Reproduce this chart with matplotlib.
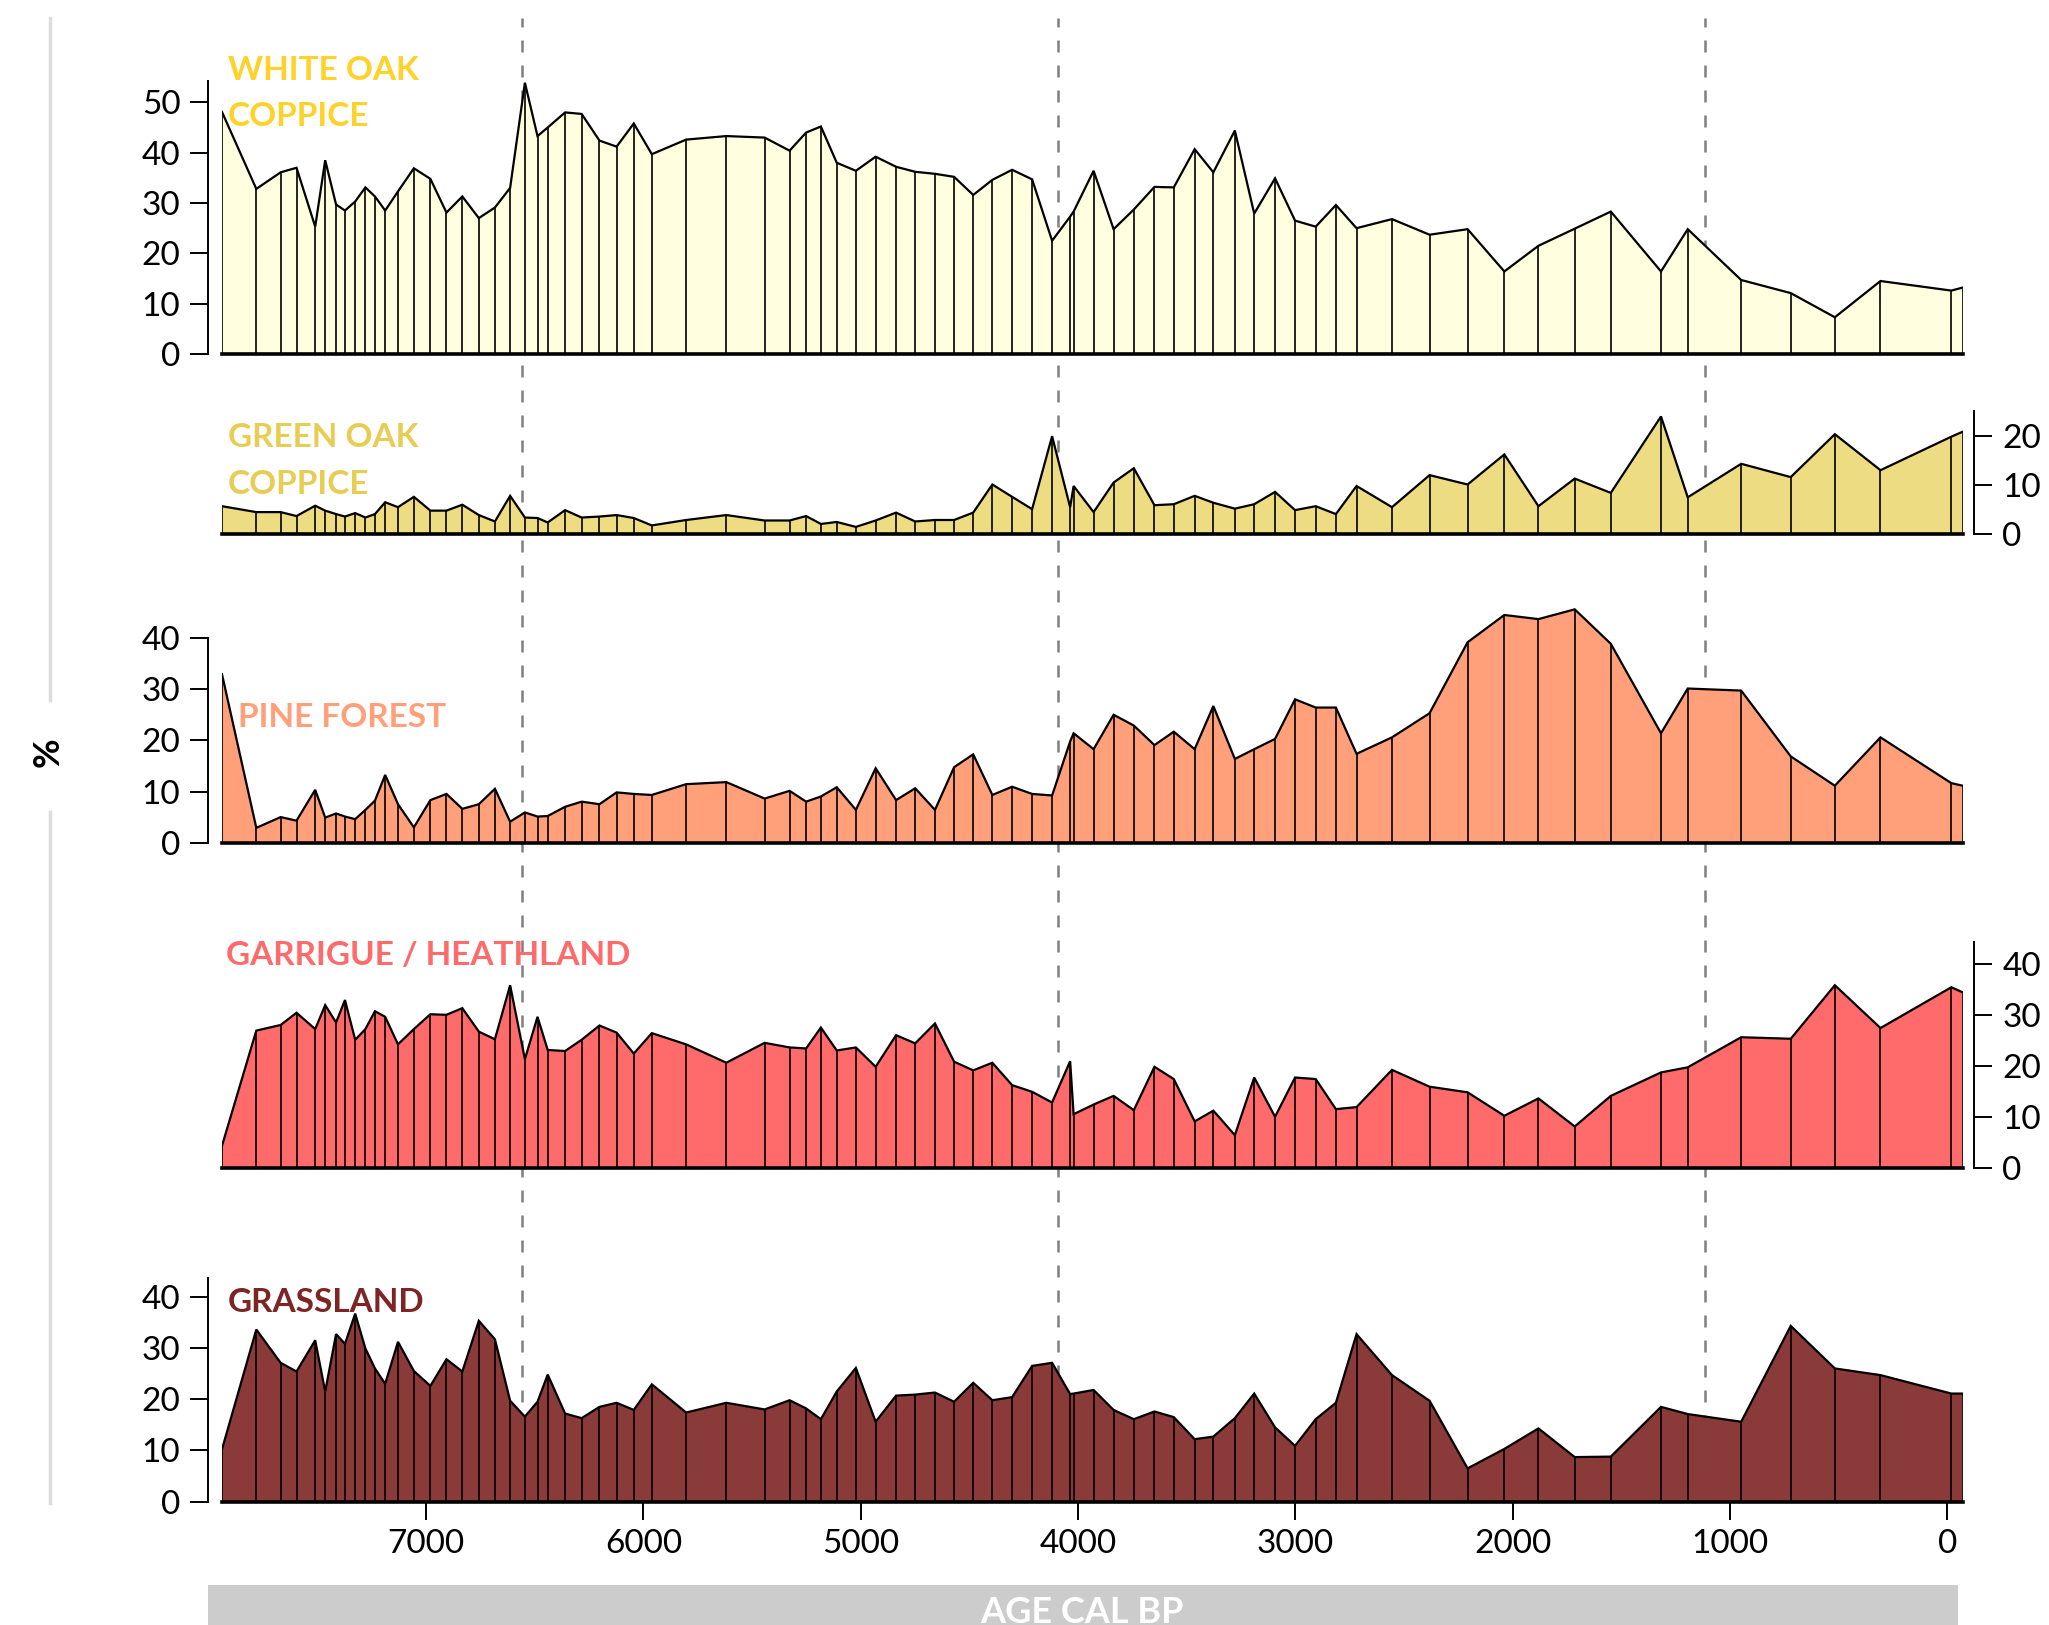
import numpy as np
import matplotlib.pyplot as plt
from matplotlib.lines import Line2D
from matplotlib.patches import Rectangle

plt.rcParams['font.family'] = ['Lato', 'DejaVu Sans']

# sample ages (cal BP), shared by all curves
age = [7939, 7781, 7669, 7596, 7510, 7464, 7414, 7373, 7326, 7279, 7235, 7188,
       7129, 7056, 6980, 6906, 6833, 6757, 6683, 6613, 6545, 6487, 6440, 6360,
       6284, 6202, 6123, 6044, 5961, 5803, 5618, 5442, 5327, 5251, 5183, 5110,
       5022, 4931, 4837, 4749, 4658, 4570, 4482, 4394,
       4303, 4211, 4119, 4036, 4020, 3928, 3836, 3743, 3648, 3559, 3463, 3377,
       3278, 3189, 3093, 3001, 2906, 2813, 2718, 2555, 2382, 2207, 2038, 1881,
       1714, 1548, 1317, 1194, 948, 720, 517, 307, -19, -71]

white_oak = [48.1, 32.8, 36.1, 37.0, 25.3, 38.5, 29.7, 28.5, 30.3, 33.1, 31.3, 28.5,
             32.3, 36.9, 34.8, 28.1, 31.3, 27.0, 29.1, 33.0, 53.9, 43.3, 45.0, 48.0,
             47.7, 42.4, 41.2, 45.8, 39.7, 42.6, 43.3, 43.0, 40.4, 44.0, 45.2, 38.0,
             36.4, 39.2, 37.2, 36.2, 35.8, 35.2, 31.6, 34.6,
             36.6, 34.7, 22.5, 27.3, 28.3, 36.4, 24.8, 28.7, 33.2, 33.1, 40.7, 36.1,
             44.4, 27.9, 34.9, 26.5, 25.3, 29.6, 25.0, 26.8, 23.7, 24.8, 16.4, 21.5,
             24.9, 28.3, 16.4, 24.8, 14.7, 12.1, 7.3, 14.5, 12.6, 13.2]

green_oak = [5.7, 4.5, 4.5, 3.7, 5.8, 4.8, 4.1, 3.6, 4.3, 3.4, 4.1, 6.5,
             5.5, 7.6, 4.8, 4.8, 6.0, 3.9, 2.6, 7.8, 3.4, 3.3, 2.4, 4.9,
             3.4, 3.6, 3.9, 3.3, 1.8, 2.9, 3.9, 2.8, 2.8, 3.7, 2.1, 2.5,
             1.5, 2.8, 4.4, 2.6, 2.9, 2.9, 4.4, 10.1,
             7.6, 5.1, 19.9, 5.5, 9.8, 4.5, 10.5, 13.4, 5.9, 6.1, 7.8, 6.4,
             5.2, 6.1, 8.6, 4.9, 5.7, 4.1, 9.8, 5.5, 12.0, 10.1, 16.2, 5.7,
             11.3, 8.4, 23.9, 7.5, 14.3, 11.6, 20.3, 13.0, 19.8, 20.8]

pine = [32.9, 3.0, 5.1, 4.4, 10.4, 5.0, 5.8, 5.2, 4.7, 6.5, 8.3, 13.3,
        7.6, 3.1, 8.4, 9.6, 6.7, 7.6, 10.6, 4.2, 6.0, 5.2, 5.3, 7.1,
        8.1, 7.6, 9.9, 9.6, 9.4, 11.5, 11.9, 8.7, 10.2, 8.1, 9.1, 10.9,
        6.5, 14.6, 8.4, 10.7, 6.5, 14.8, 17.3, 9.4,
        11.0, 9.6, 9.3, 19.8, 21.4, 18.3, 25.0, 22.9, 19.1, 21.7, 18.3, 26.7,
        16.4, 18.3, 20.3, 28.0, 26.4, 26.4, 17.4, 20.6, 25.3, 39.1, 44.4, 43.6,
        45.5, 38.8, 21.4, 30.1, 29.7, 16.9, 11.2, 20.6, 11.7, 11.2]

garrigue = [4.4, 27.0, 28.1, 30.5, 27.3, 32.0, 28.6, 33.0, 25.2, 27.3, 30.8, 29.7,
            24.3, 27.3, 30.2, 30.1, 31.4, 26.8, 25.3, 35.9, 21.4, 29.7, 23.2, 23.0,
            25.2, 28.0, 26.6, 22.5, 26.5, 24.3, 20.7, 24.6, 23.7, 23.5, 27.6, 23.1,
            23.7, 19.9, 26.1, 24.5, 28.4, 20.9, 19.2, 20.7,
            16.3, 15.0, 12.9, 21.0, 10.6, 12.5, 14.2, 11.4, 19.9, 17.5, 9.2, 11.3,
            6.5, 17.8, 10.1, 17.8, 17.5, 11.6, 12.0, 19.3, 16.0, 14.9, 10.3, 13.7,
            8.2, 14.2, 18.8, 19.8, 25.7, 25.4, 35.9, 27.5, 35.5, 34.5]

grassland = [10.2, 33.6, 27.1, 25.4, 31.5, 21.5, 32.7, 30.8, 36.7, 29.9, 26.0, 23.0,
             31.2, 25.5, 22.6, 27.8, 25.4, 35.3, 31.7, 19.7, 16.6, 19.5, 24.8, 17.2,
             16.3, 18.5, 19.3, 17.9, 22.9, 17.4, 19.3, 18.0, 19.8, 18.2, 16.1, 21.5,
             26.1, 15.6, 20.7, 20.9, 21.3, 19.5, 23.2, 19.8,
             20.4, 26.5, 27.1, 21.0, 21.1, 21.8, 17.9, 16.1, 17.6, 16.5, 12.2, 12.7,
             16.3, 21.1, 14.5, 10.9, 16.1, 19.3, 32.7, 24.7, 19.7, 6.5, 10.3, 14.3,
             8.7, 8.8, 18.5, 17.1, 15.6, 34.3, 26.0, 24.7, 21.1, 21.1]

labels = [['WHITE OAK', 'COPPICE'], ['GREEN OAK', 'COPPICE'], ['PINE FOREST'],
          ['GARRIGUE / HEATHLAND'], ['GRASSLAND']]
zone_bounds = [6557, 4091, 1114]
age_ticks = [7000, 6000, 5000, 4000, 3000, 2000, 1000, 0]

# layout in pixels
W, H = 2049, 1625
X0, K = 1947.2, 0.21731          # x pixel of 0 BP, pixels per year
x_left = X0 - K * age[0]
x_right = X0 - K * age[-1]

fig = plt.figure(figsize=(W / 100, H / 100), dpi=100)


def fx(px):
    return px / W


def fy(py):
    return 1 - py / H


# series, fill colour, label colour, baseline px, px per %, spine top, side, yticks, label pos
panels = [
    (white_oak, '#FFFFDF', '#FFD12B', 354.0, 5.033, 54.3, 'left', [0, 10, 20, 30, 40, 50], (228, 80)),
    (green_oak, '#EEDC82', '#E8CD55', 534.3, 4.93, 25.0, 'right', [0, 10, 20], (228, 447)),
    (pine, '#FFA07A', '#FFA07A', 843.3, 5.142, 40.0, 'left', [0, 10, 20, 30, 40], (238, 727)),
    (garrigue, '#FF6A6A', '#FF6A6A', 1168.3, 5.10, 44.4, 'right', [0, 10, 20, 30, 40], (226, 965)),
    (grassland, '#8B3A3A', '#7D2525', 1501.7, 5.125, 43.6, 'left', [0, 10, 20, 30, 40], (228, 1312)),
]

# zone boundaries, drawn behind the curves
ax_bg = fig.add_axes([fx(x_left), fy(1501.7), (x_right - x_left) / W, (1501.7 - 18) / H])
ax_bg.set_xlim(age[0], age[-1])
ax_bg.set_ylim(0, 1)
ax_bg.axis('off')
ax_bg.set_zorder(0)
for a in zone_bounds:
    ax_bg.axvline(a, color='#7f7f7f', lw=1.8, ls=(0, (4.8, 5.2)))

ytop = 60
for i, (vals, fc, lc, base, s, stop, side, yt, lpos) in enumerate(panels):
    ax = fig.add_axes([fx(x_left), fy(base), (x_right - x_left) / W, ytop * s / H])
    ax.set_zorder(1)
    ax.set_facecolor('none')
    ax.set_xlim(age[0], age[-1])
    ax.set_ylim(0, ytop)

    ax.fill_between(age, 0, vals, facecolor=fc, edgecolor='none', zorder=1)
    ax.vlines(age, 0, vals, color='black', lw=1.2, zorder=2)
    ax.plot(age, vals, color='black', lw=1.6, zorder=3, solid_joinstyle='miter')

    for sp in ['top', 'left', 'right']:
        ax.spines[sp].set_visible(False)
    ax.spines['bottom'].set_linewidth(2.6)
    ax.spines['bottom'].set_zorder(4)

    ax.spines[side].set_visible(True)
    ax.spines[side].set_linewidth(1.4)
    ax.spines[side].set_bounds(0, stop)
    ax.spines[side].set_position(('outward', 10 if side == 'left' else 8.5))
    if side == 'left':
        ax.yaxis.set_ticks_position('left')
    else:
        ax.yaxis.set_ticks_position('right')
    ax.set_yticks(yt)
    ax.set_yticklabels([str(t) for t in yt])
    ax.tick_params(axis='y', length=13, width=1.4, labelsize=24, pad=7)

    if i == len(panels) - 1:
        ax.set_xticks(age_ticks)
        ax.set_xticklabels([str(t) for t in age_ticks])
        ax.tick_params(axis='x', length=13, width=1.4, labelsize=24, pad=7)
    else:
        ax.tick_params(axis='x', bottom=False, labelbottom=False)

    # taxon label
    lx, ly = lpos
    for j, line in enumerate(labels[i]):
        fig.text(fx(lx), fy(ly + 46.5 * j), line, color=lc, fontsize=24,
                 fontweight='bold', ha='left', va='baseline', zorder=5)

# y axis title with the light guide line around it
fig.text(fx(48), fy(752), '%', rotation=90, fontsize=26, fontweight='bold',
         ha='center', va='center')
for y1, y2 in [(18, 700), (812, 1503)]:
    fig.add_artist(Line2D([fx(50), fx(50)], [fy(y1), fy(y2)], color='#dcdcdc', lw=2.5))

# age axis band
fig.add_artist(Rectangle((fx(208), 0), (1958 - 208) / W, (H - 1585) / H,
                         transform=fig.transFigure, facecolor='#cccccc', edgecolor='none'))
fig.text(fx(1082), fy(1623), 'AGE CAL BP', color='white', fontsize=26,
         fontweight='bold', ha='center', va='baseline')

fig.savefig('out.png', dpi=100)
